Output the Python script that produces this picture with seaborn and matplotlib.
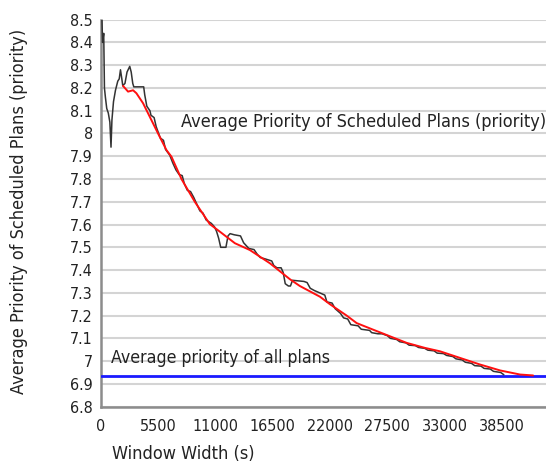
import matplotlib

matplotlib.use("Agg")
import matplotlib.pyplot as plt  # noqa: E402
import pandas as pd  # noqa: E402
import seaborn as sns  # noqa: E402

# raw curve (black)
raw_x = [
    0, 150, 260, 330, 420, 550, 700, 850, 960, 1050, 1200, 1390, 1610, 1750,
    1870, 2000, 2090, 2300, 2500, 2760, 2900, 3050, 3150, 3500, 4100, 4200,
    4400, 4700, 4800, 5100, 5300, 5700, 6000, 6200, 6600, 6900, 7200, 7500,
    7800, 8000, 8300, 8600, 8900, 9200, 9500, 9800, 10100, 10600, 10900,
    11100, 11300, 11500, 12000, 12200, 12400, 12800, 13400, 13700, 14200,
    14700, 15000, 15300, 15700, 16400, 16600, 16900, 17300, 17500, 17700,
    18000, 18200, 18400, 19500, 19800, 20100, 20500, 21000, 21500, 21700,
    22200, 22500, 23000, 23300, 23700, 24000, 24700, 25000, 25800, 26000,
    26600, 27000, 27500, 27800, 28400, 28700, 29300, 29600, 30200, 30500,
    31100, 31400, 32000, 32300, 32900, 33200, 33800, 34100, 34700, 35000,
    35600, 35900, 36500, 36800, 37400, 37700, 38400, 38700,
]
raw_y = [
    8.65, 8.40, 8.44, 8.20, 8.16, 8.11, 8.09, 8.05, 7.94, 8.06, 8.14, 8.19,
    8.23, 8.24, 8.28, 8.24, 8.21, 8.22, 8.27, 8.295, 8.27, 8.22, 8.205, 8.205,
    8.205, 8.17, 8.12, 8.10, 8.08, 8.07, 8.03, 7.98, 7.97, 7.93, 7.905, 7.87,
    7.84, 7.82, 7.815, 7.78, 7.75, 7.745, 7.72, 7.69, 7.66, 7.65, 7.62, 7.605,
    7.59, 7.57, 7.54, 7.50, 7.50, 7.55, 7.56, 7.555, 7.55, 7.52, 7.495, 7.49,
    7.47, 7.455, 7.45, 7.44, 7.42, 7.41, 7.41, 7.39, 7.34, 7.33, 7.33, 7.355,
    7.35, 7.345, 7.32, 7.31, 7.30, 7.29, 7.26, 7.255, 7.23, 7.21, 7.19, 7.185,
    7.16, 7.155, 7.14, 7.135, 7.125, 7.12, 7.12, 7.112, 7.10, 7.095, 7.085,
    7.08, 7.07, 7.068, 7.06, 7.056, 7.048, 7.045, 7.035, 7.033, 7.025, 7.02,
    7.01, 7.005, 6.995, 6.99, 6.98, 6.978, 6.968, 6.965, 6.955, 6.95, 6.94,
]

# smoothed trend (red)
trend_x = [
    2115, 2600, 3080, 3400, 4040, 4680, 5480, 6290, 6770, 7730, 9010, 10450,
    11410, 12860, 14300, 16220, 18140, 19100, 21030, 21990, 23600, 24560,
    26150, 27760, 29370, 31120, 32570, 34490, 36410, 38340, 40260, 41510,
]
trend_y = [
    8.209, 8.184, 8.19, 8.177, 8.133, 8.074, 8.0, 7.927, 7.898, 7.80, 7.70,
    7.602, 7.569, 7.518, 7.488, 7.43, 7.36, 7.33, 7.283, 7.25, 7.2, 7.167,
    7.138, 7.109, 7.08, 7.058, 7.043, 7.014, 6.985, 6.959, 6.941, 6.937,
]

all_plans_avg = 6.935

x_ticks = [0, 5500, 11000, 16500, 22000, 27500, 33000, 38500]
y_ticks = [6.8, 6.9, 7.0, 7.1, 7.2, 7.3, 7.4, 7.5, 7.6, 7.7, 7.8, 7.9,
           8.0, 8.1, 8.2, 8.3, 8.4, 8.5]
y_tick_labels = ["6.8", "6.9", "7", "7.1", "7.2", "7.3", "7.4", "7.5", "7.6",
                 "7.7", "7.8", "7.9", "8", "8.1", "8.2", "8.3", "8.4", "8.5"]

sns.set_style("white")
plt.rcParams["font.family"] = ["DejaVu Sans"]
plt.rcParams["font.stretch"] = "condensed"

raw = pd.DataFrame({"width": raw_x, "priority": raw_y})
trend = pd.DataFrame({"width": trend_x, "priority": trend_y})

fig = plt.figure(figsize=(5.46, 4.69), dpi=100)
ax = fig.add_axes([0.185, 0.133, 0.815, 0.825])

ax.axhline(all_plans_avg, color="#1a1aff", lw=2, zorder=3)
sns.lineplot(data=raw, x="width", y="priority", color="#333333", lw=1.1,
             sort=False, ax=ax, zorder=4)
sns.lineplot(data=trend, x="width", y="priority", color="#ff1010", lw=1.4,
             sort=False, ax=ax, zorder=5)

ax.set_xlim(0, 42750)
ax.set_ylim(6.8, 8.5)
ax.set_xticks(x_ticks)
ax.set_xticklabels([str(t) for t in x_ticks])
ax.set_yticks(y_ticks)
ax.set_yticklabels(y_tick_labels)

ax.yaxis.grid(True, color="#d4d4d4", lw=1.5)
ax.set_axisbelow(True)
for side in ["top", "right"]:
    ax.spines[side].set_visible(False)
for side in ["left", "bottom"]:
    ax.spines[side].set_color("#8c8c8c")
    ax.spines[side].set_linewidth(1.8)
ax.tick_params(axis="x", length=5, width=1.2, color="#8c8c8c",
               labelsize=11.5, pad=4, labelcolor="#222222")
ax.tick_params(axis="y", length=2, width=1, color="#8c8c8c",
               labelsize=11.5, pad=4, labelcolor="#222222")

ax.set_xlabel("Window Width (s)", fontsize=13, color="#222222")
ax.xaxis.set_label_coords(0.185, -0.10)
ax.set_ylabel("Average Priority of Scheduled Plans (priority)", fontsize=13,
              color="#222222")
ax.yaxis.set_label_coords(-0.165, 0.505)

ax.text(7660, 8.05, "Average Priority of Scheduled Plans (priority)",
        fontsize=13, color="#222222", va="center", ha="left")
ax.text(940, 7.014, "Average priority of all plans", fontsize=12.7,
        color="#222222", va="center", ha="left")

fig.savefig("out.png", dpi=100)
plt.close(fig)
